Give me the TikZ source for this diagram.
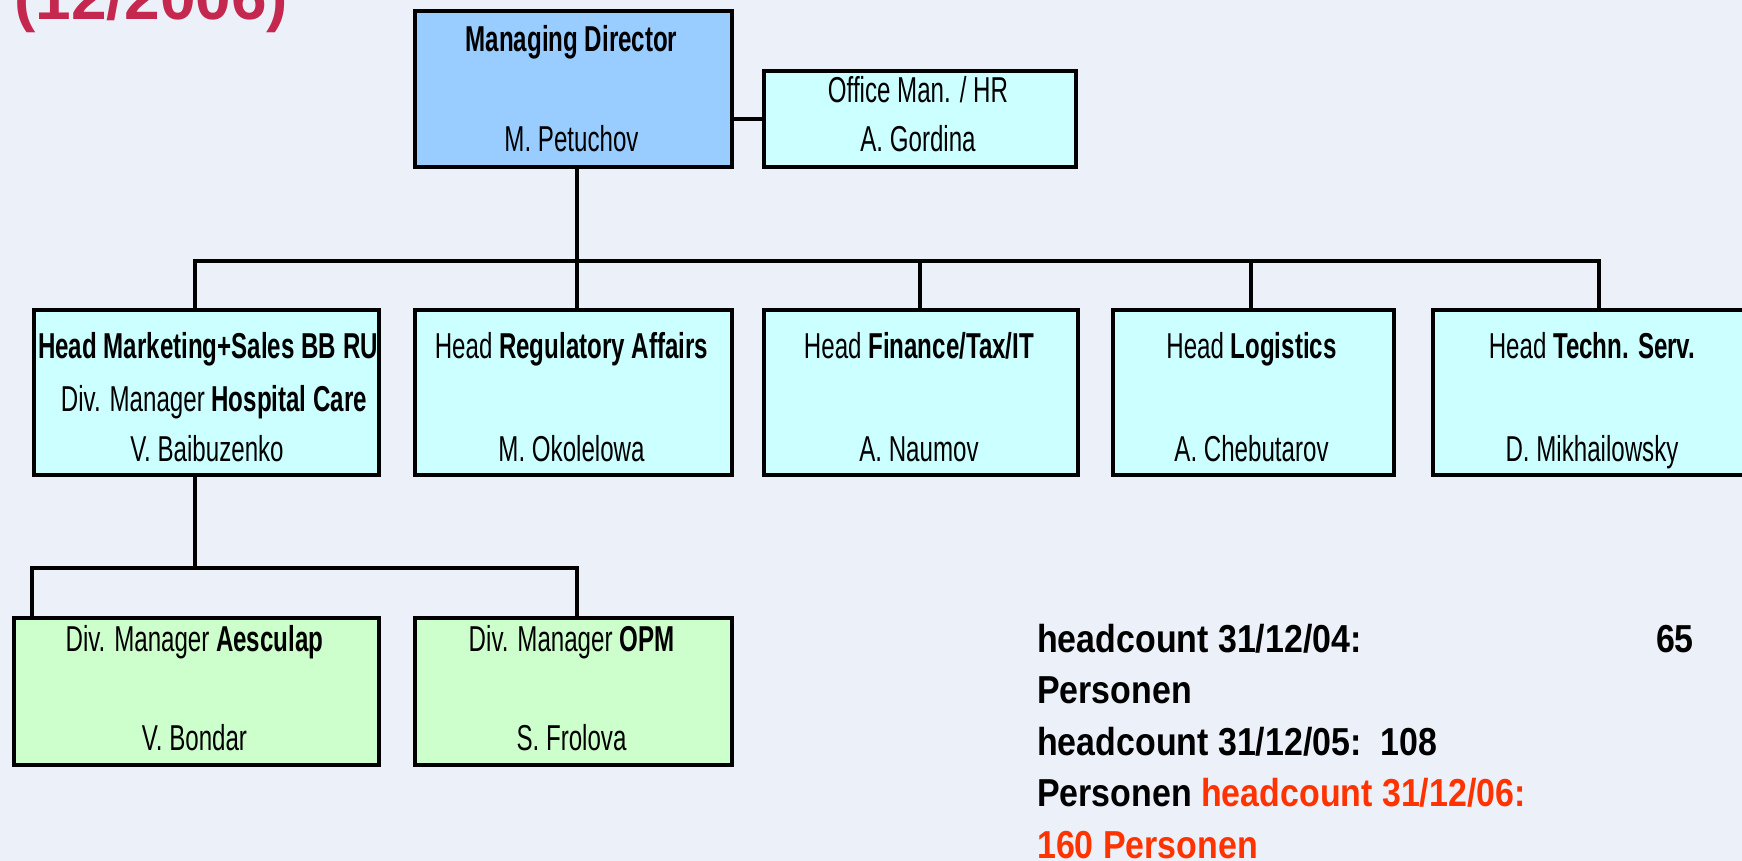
\documentclass[tikz,border=0pt]{standalone}
\usepackage{fontspec}
\setmainfont{Liberation Sans}
\newfontfamily\boxfont[FakeStretch=0.67]{Liberation Sans}
\newfontfamily\hcfont[FakeStretch=0.87]{Liberation Sans}
\definecolor{bgc}{HTML}{ECF0F8}
\definecolor{mdblue}{HTML}{99CCFF}
\definecolor{cyanlt}{HTML}{CCFFFF}
\definecolor{greenlt}{HTML}{CCFFCC}
\definecolor{titlec}{HTML}{C4284F}
\definecolor{orangec}{HTML}{FF3300}
\begin{document}
\begin{tikzpicture}[x=1pt,y=-1pt,
  orgbox/.style={draw=black, line width=4pt, inner sep=0pt, anchor=north west},
  lbl/.style={inner sep=0pt, anchor=base, font=\boxfont\fontsize{36}{40}\selectfont},
  hc/.style={inner sep=0pt, anchor=base west, font=\hcfont\bfseries\fontsize{39}{50}\selectfont},
  conn/.style={draw=black, line width=3.5pt, line join=miter}]
\useasboundingbox (0,0) rectangle (1742,861);
\clip (0,0) rectangle (1742,861);
\fill[bgc] (0,0) rectangle (1742,861);

% title
\node[inner sep=0pt, anchor=base west, text=titlec, font=\bfseries\fontsize{64}{64}\selectfont] (title) at (14,20) {(12/2006)};

% boxes
\node[orgbox, fill=mdblue, minimum width=317pt, minimum height=156pt] (md) at (413,9) {};
\node[orgbox, fill=cyanlt, minimum width=312pt, minimum height=96pt] (off) at (762,69) {};
\node[orgbox, fill=cyanlt, minimum width=345pt, minimum height=165pt] (b1) at (32,308) {};
\node[orgbox, fill=cyanlt, minimum width=317pt, minimum height=165pt] (b2) at (413,308) {};
\node[orgbox, fill=cyanlt, minimum width=314pt, minimum height=165pt] (b3) at (762,308) {};
\node[orgbox, fill=cyanlt, minimum width=281pt, minimum height=165pt] (b4) at (1111,308) {};
\node[orgbox, fill=cyanlt, minimum width=340pt, minimum height=165pt] (b5) at (1431,308) {};
\node[orgbox, fill=greenlt, minimum width=365pt, minimum height=147pt] (b6) at (12,616) {};
\node[orgbox, fill=greenlt, minimum width=317pt, minimum height=147pt] (b7) at (413,616) {};

% junction coordinates
\coordinate (j0) at (577,261);
\coordinate (h1) at (195,261);
\coordinate (h3) at (920,261);
\coordinate (h4) at (1251,261);
\coordinate (h5) at (1599,261);
\coordinate (k0) at (195,568);
\coordinate (k1) at (32,568);
\coordinate (k2) at (577,568);

% connectors
\draw[conn] (off.west) -- (off.west -| md.east);
\draw[conn] (j0 |- md.south) -- (j0 |- b2.north);
\draw[conn] (h1 |- b1.north) -- (h1) -- (h5) -- (h5 |- b5.north);
\draw[conn] (h3) -- (h3 |- b3.north);
\draw[conn] (h4) -- (h4 |- b4.north);
\draw[conn] (k0 |- b1.south) -- (k0);
\draw[conn] (k1 |- b6.north) -- (k1) -- (k2) -- (k2 |- b7.north);

% box texts
\node[lbl] (mdt1) at (571.5,52) {\bfseries Managing Director};
\node[lbl] (mdt2) at (571.5,152) {M. Petuchov};
\node[lbl] (oft1) at (918,103) {Office Man. / HR};
\node[lbl] (oft2) at (918,152) {A. Gordina};
\node[lbl] (b1t1) at (208,358) {\bfseries Head Marketing+Sales BB RU};
\node[lbl] (b1t2) at (214,411) {Div. Manager \bfseries Hospital Care};
\node[lbl] (b1t3) at (207,461) {V. Baibuzenko};
\node[lbl] (b2t1) at (571.5,358) {Head \bfseries Regulatory Affairs};
\node[lbl] (b2t2) at (571.5,461) {M. Okolelowa};
\node[lbl] (b3t1) at (919,358) {Head \bfseries Finance/Tax/IT};
\node[lbl] (b3t2) at (919,461) {A. Naumov};
\node[lbl] (b4t1) at (1251.5,358) {Head \bfseries Logistics};
\node[lbl] (b4t2) at (1251.5,461) {A. Chebutarov};
\node[lbl] (b5t1) at (1592,358) {Head \bfseries Techn. Serv.};
\node[lbl] (b5t2) at (1592,461) {D. Mikhailowsky};
\node[lbl] (b6t1) at (194.5,651) {Div. Manager \bfseries Aesculap};
\node[lbl] (b6t2) at (194.5,750) {V. Bondar};
\node[lbl] (b7t1) at (571.5,651) {Div. Manager \bfseries OPM};
\node[lbl] (b7t2) at (571.5,750) {S. Frolova};

% headcount text
\node[hc] (hc1) at (1037,652) {headcount 31/12/04:};
\node[hc, anchor=base east] (hc1b) at (1694,652) {65};
\node[hc] (hc2) at (1037,703.5) {Personen};
\node[hc] (hc3) at (1037,755) {headcount 31/12/05:\ \ 108};
\node[hc] (hc4) at (1037,806.5) {Personen \textcolor{orangec}{headcount 31/12/06:}};
\node[hc, text=orangec] (hc5) at (1037,858) {160 Personen};
\end{tikzpicture}
\end{document}
